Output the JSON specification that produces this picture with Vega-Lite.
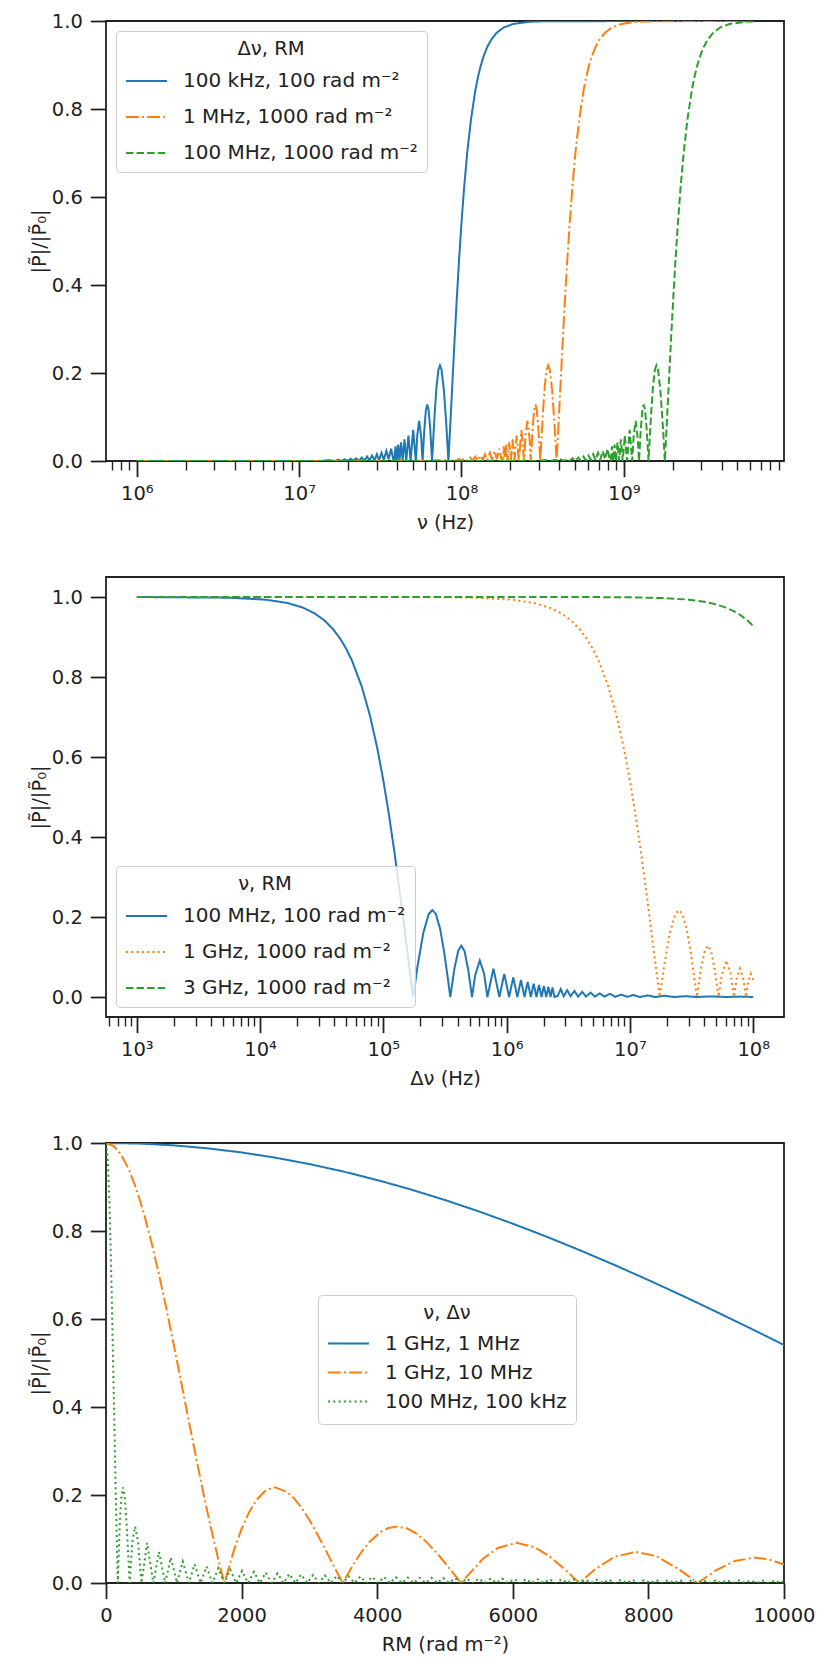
{
  "$schema": "https://vega.github.io/schema/vega-lite/v6.json",
  "background": "white",
  "padding": {"left": 28, "top": 10, "right": 10, "bottom": 10},
  "spacing": 43,
  "config": {
    "font": "DejaVu Sans",
    "view": {"stroke": "#222222", "strokeWidth": 1.8},
    "axis": {
      "grid": false,
      "domain": false,
      "tickColor": "#222222",
      "labelColor": "#222222",
      "titleColor": "#222222",
      "labelFontSize": 19.5,
      "titleFontSize": 19.5,
      "titleFontWeight": "normal",
      "labelPadding": 8,
      "titlePadding": 8,
      "labelOverlap": false,
      "labelFlush": false,
      "labelBound": false
    },
    "axisX": {"titlePadding": 10},
    "axisY": {"titlePadding": 2},
    "legend": {
      "titleFontSize": 19.5,
      "labelFontSize": 20,
      "titleFontWeight": "normal",
      "titleColor": "#222222",
      "labelColor": "#222222",
      "titleAnchor": "middle",
      "titleAlign": "center",
      "symbolType": "stroke",
      "symbolSize": 1681,
      "symbolStrokeWidth": 2,
      "labelOffset": 15,
      "labelLimit": 400,
      "padding": 9,
      "offset": 10,
      "fillColor": "rgba(255,255,255,0.8)",
      "strokeColor": "#cccccc",
      "cornerRadius": 4
    }
  },
  "datasets": {
    "p1": [
      {"s": "100 kHz, 100 rad m⁻²", "x": 1e6, "y": 0},
      {"s": "100 kHz, 100 rad m⁻²", "x": 1.370e7, "y": 0},
      {"s": "100 kHz, 100 rad m⁻²", "x": 1.533e7, "y": 0.002},
      {"s": "100 kHz, 100 rad m⁻²", "x": 1.651e7, "y": 0},
      {"s": "100 kHz, 100 rad m⁻²", "x": 1.743e7, "y": 0.0029},
      {"s": "100 kHz, 100 rad m⁻²", "x": 1.817e7, "y": 0},
      {"s": "100 kHz, 100 rad m⁻²", "x": 1.906e7, "y": 0.0038},
      {"s": "100 kHz, 100 rad m⁻²", "x": 1.985e7, "y": 0},
      {"s": "100 kHz, 100 rad m⁻²", "x": 2.080e7, "y": 0.005},
      {"s": "100 kHz, 100 rad m⁻²", "x": 2.154e7, "y": 0},
      {"s": "100 kHz, 100 rad m⁻²", "x": 2.241e7, "y": 0.0063},
      {"s": "100 kHz, 100 rad m⁻²", "x": 2.343e7, "y": 0.0005},
      {"s": "100 kHz, 100 rad m⁻²", "x": 2.433e7, "y": 0.008},
      {"s": "100 kHz, 100 rad m⁻²", "x": 2.524e7, "y": 0.001},
      {"s": "100 kHz, 100 rad m⁻²", "x": 2.621e7, "y": 0.010},
      {"s": "100 kHz, 100 rad m⁻²", "x": 2.714e7, "y": 0.001},
      {"s": "100 kHz, 100 rad m⁻²", "x": 2.811e7, "y": 0.0123},
      {"s": "100 kHz, 100 rad m⁻²", "x": 2.911e7, "y": 0.002},
      {"s": "100 kHz, 100 rad m⁻²", "x": 3.010e7, "y": 0.0152},
      {"s": "100 kHz, 100 rad m⁻²", "x": 3.107e7, "y": 0.002},
      {"s": "100 kHz, 100 rad m⁻²", "x": 3.218e7, "y": 0.0185},
      {"s": "100 kHz, 100 rad m⁻²", "x": 3.324e7, "y": 0.003},
      {"s": "100 kHz, 100 rad m⁻²", "x": 3.446e7, "y": 0.0227},
      {"s": "100 kHz, 100 rad m⁻²", "x": 3.557e7, "y": 0.004},
      {"s": "100 kHz, 100 rad m⁻²", "x": 3.684e7, "y": 0.0278},
      {"s": "100 kHz, 100 rad m⁻²", "x": 3.792e7, "y": 0.005},
      {"s": "100 kHz, 100 rad m⁻²", "x": 3.856e7, "y": 0},
      {"s": "100 kHz, 100 rad m⁻²", "x": 3.923e7, "y": 0.0335},
      {"s": "100 kHz, 100 rad m⁻²", "x": 3.993e7, "y": 0},
      {"s": "100 kHz, 100 rad m⁻²", "x": 4.071e7, "y": 0.0375},
      {"s": "100 kHz, 100 rad m⁻²", "x": 4.151e7, "y": 0},
      {"s": "100 kHz, 100 rad m⁻²", "x": 4.244e7, "y": 0.0425},
      {"s": "100 kHz, 100 rad m⁻²", "x": 4.341e7, "y": 0},
      {"s": "100 kHz, 100 rad m⁻²", "x": 4.454e7, "y": 0.0490},
      {"s": "100 kHz, 100 rad m⁻²", "x": 4.570e7, "y": 0},
      {"s": "100 kHz, 100 rad m⁻²", "x": 4.710e7, "y": 0.0579},
      {"s": "100 kHz, 100 rad m⁻²", "x": 4.858e7, "y": 0},
      {"s": "100 kHz, 100 rad m⁻²", "x": 5.040e7, "y": 0.0709},
      {"s": "100 kHz, 100 rad m⁻²", "x": 5.232e7, "y": 0},
      {"s": "100 kHz, 100 rad m⁻²", "x": 5.343e7, "y": 0.0588},
      {"s": "100 kHz, 100 rad m⁻²", "x": 5.485e7, "y": 0.0913},
      {"s": "100 kHz, 100 rad m⁻²", "x": 5.646e7, "y": 0.0544},
      {"s": "100 kHz, 100 rad m⁻²", "x": 5.758e7, "y": 0},
      {"s": "100 kHz, 100 rad m⁻²", "x": 5.892e7, "y": 0.0665},
      {"s": "100 kHz, 100 rad m⁻²", "x": 6.032e7, "y": 0.1147},
      {"s": "100 kHz, 100 rad m⁻²", "x": 6.154e7, "y": 0.1284},
      {"s": "100 kHz, 100 rad m⁻²", "x": 6.270e7, "y": 0.1165},
      {"s": "100 kHz, 100 rad m⁻²", "x": 6.421e7, "y": 0.0727},
      {"s": "100 kHz, 100 rad m⁻²", "x": 6.592e7, "y": 0},
      {"s": "100 kHz, 100 rad m⁻²", "x": 6.694e7, "y": 0.0466},
      {"s": "100 kHz, 100 rad m⁻²", "x": 6.850e7, "y": 0.1127},
      {"s": "100 kHz, 100 rad m⁻²", "x": 7.021e7, "y": 0.1699},
      {"s": "100 kHz, 100 rad m⁻²", "x": 7.211e7, "y": 0.2075},
      {"s": "100 kHz, 100 rad m⁻²", "x": 7.373e7, "y": 0.2172},
      {"s": "100 kHz, 100 rad m⁻²", "x": 7.539e7, "y": 0.2075},
      {"s": "100 kHz, 100 rad m⁻²", "x": 7.795e7, "y": 0.1610},
      {"s": "100 kHz, 100 rad m⁻²", "x": 8.089e7, "y": 0.0752},
      {"s": "100 kHz, 100 rad m⁻²", "x": 8.307e7, "y": 0},
      {"s": "100 kHz, 100 rad m⁻²", "x": 8.435e7, "y": 0.0470},
      {"s": "100 kHz, 100 rad m⁻²", "x": 8.631e7, "y": 0.1196},
      {"s": "100 kHz, 100 rad m⁻²", "x": 8.847e7, "y": 0.1983},
      {"s": "100 kHz, 100 rad m⁻²", "x": 9.086e7, "y": 0.2814},
      {"s": "100 kHz, 100 rad m⁻²", "x": 9.353e7, "y": 0.3675},
      {"s": "100 kHz, 100 rad m⁻²", "x": 9.655e7, "y": 0.4546},
      {"s": "100 kHz, 100 rad m⁻²", "x": 1.000e8, "y": 0.5410},
      {"s": "100 kHz, 100 rad m⁻²", "x": 1.040e8, "y": 0.6247},
      {"s": "100 kHz, 100 rad m⁻²", "x": 1.087e8, "y": 0.7039},
      {"s": "100 kHz, 100 rad m⁻²", "x": 1.145e8, "y": 0.7767},
      {"s": "100 kHz, 100 rad m⁻²", "x": 1.216e8, "y": 0.8415},
      {"s": "100 kHz, 100 rad m⁻²", "x": 1.260e8, "y": 0.8704},
      {"s": "100 kHz, 100 rad m⁻²", "x": 1.310e8, "y": 0.8967},
      {"s": "100 kHz, 100 rad m⁻²", "x": 1.370e8, "y": 0.9203},
      {"s": "100 kHz, 100 rad m⁻²", "x": 1.442e8, "y": 0.9411},
      {"s": "100 kHz, 100 rad m⁻²", "x": 1.533e8, "y": 0.9589},
      {"s": "100 kHz, 100 rad m⁻²", "x": 1.651e8, "y": 0.9735},
      {"s": "100 kHz, 100 rad m⁻²", "x": 1.817e8, "y": 0.9851},
      {"s": "100 kHz, 100 rad m⁻²", "x": 2.080e8, "y": 0.9933},
      {"s": "100 kHz, 100 rad m⁻²", "x": 2.621e8, "y": 0.9983},
      {"s": "100 kHz, 100 rad m⁻²", "x": 3.302e8, "y": 0.9996},
      {"s": "100 kHz, 100 rad m⁻²", "x": 6.27e9, "y": 1},
      {"s": "1 MHz, 1000 rad m⁻²", "x": 1e6, "y": 0},
      {"s": "1 MHz, 1000 rad m⁻²", "x": 6.359e7, "y": 0},
      {"s": "1 MHz, 1000 rad m⁻²", "x": 7.116e7, "y": 0.002},
      {"s": "1 MHz, 1000 rad m⁻²", "x": 7.663e7, "y": 0},
      {"s": "1 MHz, 1000 rad m⁻²", "x": 8.090e7, "y": 0.0029},
      {"s": "1 MHz, 1000 rad m⁻²", "x": 8.434e7, "y": 0},
      {"s": "1 MHz, 1000 rad m⁻²", "x": 8.847e7, "y": 0.0038},
      {"s": "1 MHz, 1000 rad m⁻²", "x": 9.214e7, "y": 0},
      {"s": "1 MHz, 1000 rad m⁻²", "x": 9.655e7, "y": 0.005},
      {"s": "1 MHz, 1000 rad m⁻²", "x": 9.998e7, "y": 0},
      {"s": "1 MHz, 1000 rad m⁻²", "x": 1.040e8, "y": 0.0063},
      {"s": "1 MHz, 1000 rad m⁻²", "x": 1.088e8, "y": 0.0005},
      {"s": "1 MHz, 1000 rad m⁻²", "x": 1.129e8, "y": 0.008},
      {"s": "1 MHz, 1000 rad m⁻²", "x": 1.172e8, "y": 0.001},
      {"s": "1 MHz, 1000 rad m⁻²", "x": 1.217e8, "y": 0.010},
      {"s": "1 MHz, 1000 rad m⁻²", "x": 1.260e8, "y": 0.001},
      {"s": "1 MHz, 1000 rad m⁻²", "x": 1.305e8, "y": 0.0123},
      {"s": "1 MHz, 1000 rad m⁻²", "x": 1.351e8, "y": 0.002},
      {"s": "1 MHz, 1000 rad m⁻²", "x": 1.397e8, "y": 0.0152},
      {"s": "1 MHz, 1000 rad m⁻²", "x": 1.442e8, "y": 0.002},
      {"s": "1 MHz, 1000 rad m⁻²", "x": 1.494e8, "y": 0.0185},
      {"s": "1 MHz, 1000 rad m⁻²", "x": 1.543e8, "y": 0.003},
      {"s": "1 MHz, 1000 rad m⁻²", "x": 1.600e8, "y": 0.0227},
      {"s": "1 MHz, 1000 rad m⁻²", "x": 1.651e8, "y": 0.004},
      {"s": "1 MHz, 1000 rad m⁻²", "x": 1.710e8, "y": 0.0278},
      {"s": "1 MHz, 1000 rad m⁻²", "x": 1.760e8, "y": 0.005},
      {"s": "1 MHz, 1000 rad m⁻²", "x": 1.790e8, "y": 0},
      {"s": "1 MHz, 1000 rad m⁻²", "x": 1.821e8, "y": 0.0335},
      {"s": "1 MHz, 1000 rad m⁻²", "x": 1.853e8, "y": 0},
      {"s": "1 MHz, 1000 rad m⁻²", "x": 1.890e8, "y": 0.0375},
      {"s": "1 MHz, 1000 rad m⁻²", "x": 1.927e8, "y": 0},
      {"s": "1 MHz, 1000 rad m⁻²", "x": 1.970e8, "y": 0.0425},
      {"s": "1 MHz, 1000 rad m⁻²", "x": 2.015e8, "y": 0},
      {"s": "1 MHz, 1000 rad m⁻²", "x": 2.067e8, "y": 0.0490},
      {"s": "1 MHz, 1000 rad m⁻²", "x": 2.121e8, "y": 0},
      {"s": "1 MHz, 1000 rad m⁻²", "x": 2.186e8, "y": 0.0579},
      {"s": "1 MHz, 1000 rad m⁻²", "x": 2.255e8, "y": 0},
      {"s": "1 MHz, 1000 rad m⁻²", "x": 2.339e8, "y": 0.0709},
      {"s": "1 MHz, 1000 rad m⁻²", "x": 2.429e8, "y": 0},
      {"s": "1 MHz, 1000 rad m⁻²", "x": 2.480e8, "y": 0.0588},
      {"s": "1 MHz, 1000 rad m⁻²", "x": 2.546e8, "y": 0.0913},
      {"s": "1 MHz, 1000 rad m⁻²", "x": 2.621e8, "y": 0.0544},
      {"s": "1 MHz, 1000 rad m⁻²", "x": 2.673e8, "y": 0},
      {"s": "1 MHz, 1000 rad m⁻²", "x": 2.735e8, "y": 0.0665},
      {"s": "1 MHz, 1000 rad m⁻²", "x": 2.800e8, "y": 0.1147},
      {"s": "1 MHz, 1000 rad m⁻²", "x": 2.856e8, "y": 0.1284},
      {"s": "1 MHz, 1000 rad m⁻²", "x": 2.910e8, "y": 0.1165},
      {"s": "1 MHz, 1000 rad m⁻²", "x": 2.980e8, "y": 0.0727},
      {"s": "1 MHz, 1000 rad m⁻²", "x": 3.060e8, "y": 0},
      {"s": "1 MHz, 1000 rad m⁻²", "x": 3.107e8, "y": 0.0466},
      {"s": "1 MHz, 1000 rad m⁻²", "x": 3.180e8, "y": 0.1127},
      {"s": "1 MHz, 1000 rad m⁻²", "x": 3.259e8, "y": 0.1699},
      {"s": "1 MHz, 1000 rad m⁻²", "x": 3.347e8, "y": 0.2075},
      {"s": "1 MHz, 1000 rad m⁻²", "x": 3.422e8, "y": 0.2172},
      {"s": "1 MHz, 1000 rad m⁻²", "x": 3.499e8, "y": 0.2075},
      {"s": "1 MHz, 1000 rad m⁻²", "x": 3.618e8, "y": 0.1610},
      {"s": "1 MHz, 1000 rad m⁻²", "x": 3.755e8, "y": 0.0752},
      {"s": "1 MHz, 1000 rad m⁻²", "x": 3.856e8, "y": 0},
      {"s": "1 MHz, 1000 rad m⁻²", "x": 3.915e8, "y": 0.0470},
      {"s": "1 MHz, 1000 rad m⁻²", "x": 4.006e8, "y": 0.1196},
      {"s": "1 MHz, 1000 rad m⁻²", "x": 4.106e8, "y": 0.1983},
      {"s": "1 MHz, 1000 rad m⁻²", "x": 4.217e8, "y": 0.2814},
      {"s": "1 MHz, 1000 rad m⁻²", "x": 4.341e8, "y": 0.3675},
      {"s": "1 MHz, 1000 rad m⁻²", "x": 4.482e8, "y": 0.4546},
      {"s": "1 MHz, 1000 rad m⁻²", "x": 4.642e8, "y": 0.5410},
      {"s": "1 MHz, 1000 rad m⁻²", "x": 4.827e8, "y": 0.6247},
      {"s": "1 MHz, 1000 rad m⁻²", "x": 5.045e8, "y": 0.7039},
      {"s": "1 MHz, 1000 rad m⁻²", "x": 5.315e8, "y": 0.7767},
      {"s": "1 MHz, 1000 rad m⁻²", "x": 5.646e8, "y": 0.8415},
      {"s": "1 MHz, 1000 rad m⁻²", "x": 5.848e8, "y": 0.8704},
      {"s": "1 MHz, 1000 rad m⁻²", "x": 6.081e8, "y": 0.8967},
      {"s": "1 MHz, 1000 rad m⁻²", "x": 6.359e8, "y": 0.9203},
      {"s": "1 MHz, 1000 rad m⁻²", "x": 6.693e8, "y": 0.9411},
      {"s": "1 MHz, 1000 rad m⁻²", "x": 7.116e8, "y": 0.9589},
      {"s": "1 MHz, 1000 rad m⁻²", "x": 7.663e8, "y": 0.9735},
      {"s": "1 MHz, 1000 rad m⁻²", "x": 8.434e8, "y": 0.9851},
      {"s": "1 MHz, 1000 rad m⁻²", "x": 9.655e8, "y": 0.9933},
      {"s": "1 MHz, 1000 rad m⁻²", "x": 1.217e9, "y": 0.9983},
      {"s": "1 MHz, 1000 rad m⁻²", "x": 1.533e9, "y": 0.9996},
      {"s": "1 MHz, 1000 rad m⁻²", "x": 6.27e9, "y": 1},
      {"s": "100 MHz, 1000 rad m⁻²", "x": 1e6, "y": 0},
      {"s": "100 MHz, 1000 rad m⁻²", "x": 2.952e8, "y": 0},
      {"s": "100 MHz, 1000 rad m⁻²", "x": 3.303e8, "y": 0.002},
      {"s": "100 MHz, 1000 rad m⁻²", "x": 3.557e8, "y": 0},
      {"s": "100 MHz, 1000 rad m⁻²", "x": 3.755e8, "y": 0.0029},
      {"s": "100 MHz, 1000 rad m⁻²", "x": 3.915e8, "y": 0},
      {"s": "100 MHz, 1000 rad m⁻²", "x": 4.106e8, "y": 0.0038},
      {"s": "100 MHz, 1000 rad m⁻²", "x": 4.276e8, "y": 0},
      {"s": "100 MHz, 1000 rad m⁻²", "x": 4.481e8, "y": 0.005},
      {"s": "100 MHz, 1000 rad m⁻²", "x": 4.641e8, "y": 0},
      {"s": "100 MHz, 1000 rad m⁻²", "x": 4.828e8, "y": 0.0063},
      {"s": "100 MHz, 1000 rad m⁻²", "x": 5.048e8, "y": 0.0005},
      {"s": "100 MHz, 1000 rad m⁻²", "x": 5.242e8, "y": 0.008},
      {"s": "100 MHz, 1000 rad m⁻²", "x": 5.438e8, "y": 0.001},
      {"s": "100 MHz, 1000 rad m⁻²", "x": 5.647e8, "y": 0.010},
      {"s": "100 MHz, 1000 rad m⁻²", "x": 5.847e8, "y": 0.001},
      {"s": "100 MHz, 1000 rad m⁻²", "x": 6.056e8, "y": 0.0123},
      {"s": "100 MHz, 1000 rad m⁻²", "x": 6.271e8, "y": 0.002},
      {"s": "100 MHz, 1000 rad m⁻²", "x": 6.485e8, "y": 0.0152},
      {"s": "100 MHz, 1000 rad m⁻²", "x": 6.694e8, "y": 0.002},
      {"s": "100 MHz, 1000 rad m⁻²", "x": 6.933e8, "y": 0.0185},
      {"s": "100 MHz, 1000 rad m⁻²", "x": 7.161e8, "y": 0.003},
      {"s": "100 MHz, 1000 rad m⁻²", "x": 7.424e8, "y": 0.0227},
      {"s": "100 MHz, 1000 rad m⁻²", "x": 7.663e8, "y": 0.004},
      {"s": "100 MHz, 1000 rad m⁻²", "x": 7.937e8, "y": 0.0278},
      {"s": "100 MHz, 1000 rad m⁻²", "x": 8.170e8, "y": 0.005},
      {"s": "100 MHz, 1000 rad m⁻²", "x": 8.307e8, "y": 0},
      {"s": "100 MHz, 1000 rad m⁻²", "x": 8.452e8, "y": 0.0335},
      {"s": "100 MHz, 1000 rad m⁻²", "x": 8.603e8, "y": 0},
      {"s": "100 MHz, 1000 rad m⁻²", "x": 8.771e8, "y": 0.0375},
      {"s": "100 MHz, 1000 rad m⁻²", "x": 8.943e8, "y": 0},
      {"s": "100 MHz, 1000 rad m⁻²", "x": 9.143e8, "y": 0.0425},
      {"s": "100 MHz, 1000 rad m⁻²", "x": 9.352e8, "y": 0},
      {"s": "100 MHz, 1000 rad m⁻²", "x": 9.596e8, "y": 0.0490},
      {"s": "100 MHz, 1000 rad m⁻²", "x": 9.846e8, "y": 0},
      {"s": "100 MHz, 1000 rad m⁻²", "x": 1.015e9, "y": 0.0579},
      {"s": "100 MHz, 1000 rad m⁻²", "x": 1.047e9, "y": 0},
      {"s": "100 MHz, 1000 rad m⁻²", "x": 1.086e9, "y": 0.0709},
      {"s": "100 MHz, 1000 rad m⁻²", "x": 1.127e9, "y": 0},
      {"s": "100 MHz, 1000 rad m⁻²", "x": 1.151e9, "y": 0.0588},
      {"s": "100 MHz, 1000 rad m⁻²", "x": 1.182e9, "y": 0.0913},
      {"s": "100 MHz, 1000 rad m⁻²", "x": 1.216e9, "y": 0.0544},
      {"s": "100 MHz, 1000 rad m⁻²", "x": 1.241e9, "y": 0},
      {"s": "100 MHz, 1000 rad m⁻²", "x": 1.269e9, "y": 0.0665},
      {"s": "100 MHz, 1000 rad m⁻²", "x": 1.300e9, "y": 0.1147},
      {"s": "100 MHz, 1000 rad m⁻²", "x": 1.326e9, "y": 0.1284},
      {"s": "100 MHz, 1000 rad m⁻²", "x": 1.351e9, "y": 0.1165},
      {"s": "100 MHz, 1000 rad m⁻²", "x": 1.383e9, "y": 0.0727},
      {"s": "100 MHz, 1000 rad m⁻²", "x": 1.420e9, "y": 0},
      {"s": "100 MHz, 1000 rad m⁻²", "x": 1.442e9, "y": 0.0466},
      {"s": "100 MHz, 1000 rad m⁻²", "x": 1.476e9, "y": 0.1127},
      {"s": "100 MHz, 1000 rad m⁻²", "x": 1.513e9, "y": 0.1699},
      {"s": "100 MHz, 1000 rad m⁻²", "x": 1.554e9, "y": 0.2075},
      {"s": "100 MHz, 1000 rad m⁻²", "x": 1.588e9, "y": 0.2172},
      {"s": "100 MHz, 1000 rad m⁻²", "x": 1.624e9, "y": 0.2075},
      {"s": "100 MHz, 1000 rad m⁻²", "x": 1.679e9, "y": 0.1610},
      {"s": "100 MHz, 1000 rad m⁻²", "x": 1.743e9, "y": 0.0752},
      {"s": "100 MHz, 1000 rad m⁻²", "x": 1.790e9, "y": 0},
      {"s": "100 MHz, 1000 rad m⁻²", "x": 1.817e9, "y": 0.0470},
      {"s": "100 MHz, 1000 rad m⁻²", "x": 1.859e9, "y": 0.1196},
      {"s": "100 MHz, 1000 rad m⁻²", "x": 1.906e9, "y": 0.1983},
      {"s": "100 MHz, 1000 rad m⁻²", "x": 1.957e9, "y": 0.2814},
      {"s": "100 MHz, 1000 rad m⁻²", "x": 2.015e9, "y": 0.3675},
      {"s": "100 MHz, 1000 rad m⁻²", "x": 2.080e9, "y": 0.4546},
      {"s": "100 MHz, 1000 rad m⁻²", "x": 2.154e9, "y": 0.5410},
      {"s": "100 MHz, 1000 rad m⁻²", "x": 2.241e9, "y": 0.6247},
      {"s": "100 MHz, 1000 rad m⁻²", "x": 2.342e9, "y": 0.7039},
      {"s": "100 MHz, 1000 rad m⁻²", "x": 2.467e9, "y": 0.7767},
      {"s": "100 MHz, 1000 rad m⁻²", "x": 2.621e9, "y": 0.8415},
      {"s": "100 MHz, 1000 rad m⁻²", "x": 2.715e9, "y": 0.8704},
      {"s": "100 MHz, 1000 rad m⁻²", "x": 2.822e9, "y": 0.8967},
      {"s": "100 MHz, 1000 rad m⁻²", "x": 2.952e9, "y": 0.9203},
      {"s": "100 MHz, 1000 rad m⁻²", "x": 3.107e9, "y": 0.9411},
      {"s": "100 MHz, 1000 rad m⁻²", "x": 3.303e9, "y": 0.9589},
      {"s": "100 MHz, 1000 rad m⁻²", "x": 3.557e9, "y": 0.9735},
      {"s": "100 MHz, 1000 rad m⁻²", "x": 3.915e9, "y": 0.9851},
      {"s": "100 MHz, 1000 rad m⁻²", "x": 4.481e9, "y": 0.9933},
      {"s": "100 MHz, 1000 rad m⁻²", "x": 5.647e9, "y": 0.9983},
      {"s": "100 MHz, 1000 rad m⁻²", "x": 6.27e9, "y": 0.9991}
    ],
    "p2": [
      {"s": "100 MHz, 100 rad m⁻²", "x": 1000, "y": 1.0},
      {"s": "100 MHz, 100 rad m⁻²", "x": 5556, "y": 0.9983},
      {"s": "100 MHz, 100 rad m⁻²", "x": 11111, "y": 0.9933},
      {"s": "100 MHz, 100 rad m⁻²", "x": 16667, "y": 0.9851},
      {"s": "100 MHz, 100 rad m⁻²", "x": 22222, "y": 0.9735},
      {"s": "100 MHz, 100 rad m⁻²", "x": 27778, "y": 0.9589},
      {"s": "100 MHz, 100 rad m⁻²", "x": 33333, "y": 0.9411},
      {"s": "100 MHz, 100 rad m⁻²", "x": 38889, "y": 0.9203},
      {"s": "100 MHz, 100 rad m⁻²", "x": 44444, "y": 0.8967},
      {"s": "100 MHz, 100 rad m⁻²", "x": 50000, "y": 0.8704},
      {"s": "100 MHz, 100 rad m⁻²", "x": 55556, "y": 0.8415},
      {"s": "100 MHz, 100 rad m⁻²", "x": 66667, "y": 0.7767},
      {"s": "100 MHz, 100 rad m⁻²", "x": 77778, "y": 0.7039},
      {"s": "100 MHz, 100 rad m⁻²", "x": 88889, "y": 0.6247},
      {"s": "100 MHz, 100 rad m⁻²", "x": 100000, "y": 0.5410},
      {"s": "100 MHz, 100 rad m⁻²", "x": 111111, "y": 0.4546},
      {"s": "100 MHz, 100 rad m⁻²", "x": 122222, "y": 0.3675},
      {"s": "100 MHz, 100 rad m⁻²", "x": 133333, "y": 0.2814},
      {"s": "100 MHz, 100 rad m⁻²", "x": 144444, "y": 0.1983},
      {"s": "100 MHz, 100 rad m⁻²", "x": 155556, "y": 0.1196},
      {"s": "100 MHz, 100 rad m⁻²", "x": 166667, "y": 0.0470},
      {"s": "100 MHz, 100 rad m⁻²", "x": 174533, "y": 0},
      {"s": "100 MHz, 100 rad m⁻²", "x": 188889, "y": 0.0752},
      {"s": "100 MHz, 100 rad m⁻²", "x": 211111, "y": 0.1610},
      {"s": "100 MHz, 100 rad m⁻²", "x": 233333, "y": 0.2075},
      {"s": "100 MHz, 100 rad m⁻²", "x": 249611, "y": 0.2172},
      {"s": "100 MHz, 100 rad m⁻²", "x": 266667, "y": 0.2075},
      {"s": "100 MHz, 100 rad m⁻²", "x": 288889, "y": 0.1699},
      {"s": "100 MHz, 100 rad m⁻²", "x": 311111, "y": 0.1127},
      {"s": "100 MHz, 100 rad m⁻²", "x": 333333, "y": 0.0466},
      {"s": "100 MHz, 100 rad m⁻²", "x": 349066, "y": 0},
      {"s": "100 MHz, 100 rad m⁻²", "x": 377778, "y": 0.0727},
      {"s": "100 MHz, 100 rad m⁻²", "x": 405556, "y": 0.1165},
      {"s": "100 MHz, 100 rad m⁻²", "x": 429167, "y": 0.1284},
      {"s": "100 MHz, 100 rad m⁻²", "x": 455556, "y": 0.1147},
      {"s": "100 MHz, 100 rad m⁻²", "x": 488889, "y": 0.0665},
      {"s": "100 MHz, 100 rad m⁻²", "x": 523599, "y": 0},
      {"s": "100 MHz, 100 rad m⁻²", "x": 555556, "y": 0.0544},
      {"s": "100 MHz, 100 rad m⁻²", "x": 605778, "y": 0.0913},
      {"s": "100 MHz, 100 rad m⁻²", "x": 655556, "y": 0.0588},
      {"s": "100 MHz, 100 rad m⁻²", "x": 698132, "y": 0},
      {"s": "100 MHz, 100 rad m⁻²", "x": 781444, "y": 0.0709},
      {"s": "100 MHz, 100 rad m⁻²", "x": 872665, "y": 0},
      {"s": "100 MHz, 100 rad m⁻²", "x": 956722, "y": 0.0579},
      {"s": "100 MHz, 100 rad m⁻²", "x": 1047198, "y": 0},
      {"s": "100 MHz, 100 rad m⁻²", "x": 1131722, "y": 0.0490},
      {"s": "100 MHz, 100 rad m⁻²", "x": 1221730, "y": 0},
      {"s": "100 MHz, 100 rad m⁻²", "x": 1306611, "y": 0.0425},
      {"s": "100 MHz, 100 rad m⁻²", "x": 1396263, "y": 0},
      {"s": "100 MHz, 100 rad m⁻²", "x": 1481444, "y": 0.0375},
      {"s": "100 MHz, 100 rad m⁻²", "x": 1570796, "y": 0},
      {"s": "100 MHz, 100 rad m⁻²", "x": 1656222, "y": 0.0335},
      {"s": "100 MHz, 100 rad m⁻²", "x": 1745329, "y": 0},
      {"s": "100 MHz, 100 rad m⁻²", "x": 1830889, "y": 0.0303},
      {"s": "100 MHz, 100 rad m⁻²", "x": 1919862, "y": 0},
      {"s": "100 MHz, 100 rad m⁻²", "x": 2005556, "y": 0.0277},
      {"s": "100 MHz, 100 rad m⁻²", "x": 2094395, "y": 0},
      {"s": "100 MHz, 100 rad m⁻²", "x": 2180000, "y": 0.0255},
      {"s": "100 MHz, 100 rad m⁻²", "x": 2268928, "y": 0},
      {"s": "100 MHz, 100 rad m⁻²", "x": 2355000, "y": 0.0236},
      {"s": "100 MHz, 100 rad m⁻²", "x": 2443461, "y": 0},
      {"s": "100 MHz, 100 rad m⁻²", "x": 2600000, "y": 0.003},
      {"s": "100 MHz, 100 rad m⁻²", "x": 2750000, "y": 0.020},
      {"s": "100 MHz, 100 rad m⁻²", "x": 2900000, "y": 0.002},
      {"s": "100 MHz, 100 rad m⁻²", "x": 3100000, "y": 0.017},
      {"s": "100 MHz, 100 rad m⁻²", "x": 3300000, "y": 0.002},
      {"s": "100 MHz, 100 rad m⁻²", "x": 3550000, "y": 0.015},
      {"s": "100 MHz, 100 rad m⁻²", "x": 3800000, "y": 0.001},
      {"s": "100 MHz, 100 rad m⁻²", "x": 4100000, "y": 0.013},
      {"s": "100 MHz, 100 rad m⁻²", "x": 4400000, "y": 0.001},
      {"s": "100 MHz, 100 rad m⁻²", "x": 4800000, "y": 0.011},
      {"s": "100 MHz, 100 rad m⁻²", "x": 5200000, "y": 0.001},
      {"s": "100 MHz, 100 rad m⁻²", "x": 5700000, "y": 0.009},
      {"s": "100 MHz, 100 rad m⁻²", "x": 6200000, "y": 0.001},
      {"s": "100 MHz, 100 rad m⁻²", "x": 6900000, "y": 0.008},
      {"s": "100 MHz, 100 rad m⁻²", "x": 7600000, "y": 0.0005},
      {"s": "100 MHz, 100 rad m⁻²", "x": 8500000, "y": 0.006},
      {"s": "100 MHz, 100 rad m⁻²", "x": 9500000, "y": 0.0005},
      {"s": "100 MHz, 100 rad m⁻²", "x": 10700000, "y": 0.005},
      {"s": "100 MHz, 100 rad m⁻²", "x": 12000000, "y": 0},
      {"s": "100 MHz, 100 rad m⁻²", "x": 14000000, "y": 0.004},
      {"s": "100 MHz, 100 rad m⁻²", "x": 16000000, "y": 0},
      {"s": "100 MHz, 100 rad m⁻²", "x": 19000000, "y": 0.003},
      {"s": "100 MHz, 100 rad m⁻²", "x": 23000000, "y": 0},
      {"s": "100 MHz, 100 rad m⁻²", "x": 28000000, "y": 0.002},
      {"s": "100 MHz, 100 rad m⁻²", "x": 35000000, "y": 0},
      {"s": "100 MHz, 100 rad m⁻²", "x": 45000000, "y": 0.0015},
      {"s": "100 MHz, 100 rad m⁻²", "x": 60000000, "y": 0},
      {"s": "100 MHz, 100 rad m⁻²", "x": 80000000, "y": 0.001},
      {"s": "100 MHz, 100 rad m⁻²", "x": 100000000, "y": 0},
      {"s": "1 GHz, 1000 rad m⁻²", "x": 1000, "y": 1.0},
      {"s": "1 GHz, 1000 rad m⁻²", "x": 55556, "y": 1.0},
      {"s": "1 GHz, 1000 rad m⁻²", "x": 277778, "y": 0.9996},
      {"s": "1 GHz, 1000 rad m⁻²", "x": 555556, "y": 0.9983},
      {"s": "1 GHz, 1000 rad m⁻²", "x": 1111111, "y": 0.9933},
      {"s": "1 GHz, 1000 rad m⁻²", "x": 1666667, "y": 0.9851},
      {"s": "1 GHz, 1000 rad m⁻²", "x": 2222222, "y": 0.9735},
      {"s": "1 GHz, 1000 rad m⁻²", "x": 2777778, "y": 0.9589},
      {"s": "1 GHz, 1000 rad m⁻²", "x": 3333333, "y": 0.9411},
      {"s": "1 GHz, 1000 rad m⁻²", "x": 3888889, "y": 0.9203},
      {"s": "1 GHz, 1000 rad m⁻²", "x": 4444444, "y": 0.8967},
      {"s": "1 GHz, 1000 rad m⁻²", "x": 5000000, "y": 0.8704},
      {"s": "1 GHz, 1000 rad m⁻²", "x": 5555556, "y": 0.8415},
      {"s": "1 GHz, 1000 rad m⁻²", "x": 6666667, "y": 0.7767},
      {"s": "1 GHz, 1000 rad m⁻²", "x": 7777778, "y": 0.7039},
      {"s": "1 GHz, 1000 rad m⁻²", "x": 8888889, "y": 0.6247},
      {"s": "1 GHz, 1000 rad m⁻²", "x": 10000000, "y": 0.5410},
      {"s": "1 GHz, 1000 rad m⁻²", "x": 11111111, "y": 0.4546},
      {"s": "1 GHz, 1000 rad m⁻²", "x": 12222222, "y": 0.3675},
      {"s": "1 GHz, 1000 rad m⁻²", "x": 13333333, "y": 0.2814},
      {"s": "1 GHz, 1000 rad m⁻²", "x": 14444444, "y": 0.1983},
      {"s": "1 GHz, 1000 rad m⁻²", "x": 15555556, "y": 0.1196},
      {"s": "1 GHz, 1000 rad m⁻²", "x": 16666667, "y": 0.0470},
      {"s": "1 GHz, 1000 rad m⁻²", "x": 17453293, "y": 0},
      {"s": "1 GHz, 1000 rad m⁻²", "x": 18888889, "y": 0.0752},
      {"s": "1 GHz, 1000 rad m⁻²", "x": 21111111, "y": 0.1610},
      {"s": "1 GHz, 1000 rad m⁻²", "x": 23333333, "y": 0.2075},
      {"s": "1 GHz, 1000 rad m⁻²", "x": 24961111, "y": 0.2172},
      {"s": "1 GHz, 1000 rad m⁻²", "x": 26666667, "y": 0.2075},
      {"s": "1 GHz, 1000 rad m⁻²", "x": 28888889, "y": 0.1699},
      {"s": "1 GHz, 1000 rad m⁻²", "x": 31111111, "y": 0.1127},
      {"s": "1 GHz, 1000 rad m⁻²", "x": 33333333, "y": 0.0466},
      {"s": "1 GHz, 1000 rad m⁻²", "x": 34906585, "y": 0},
      {"s": "1 GHz, 1000 rad m⁻²", "x": 37777778, "y": 0.0727},
      {"s": "1 GHz, 1000 rad m⁻²", "x": 40555556, "y": 0.1165},
      {"s": "1 GHz, 1000 rad m⁻²", "x": 42916667, "y": 0.1284},
      {"s": "1 GHz, 1000 rad m⁻²", "x": 45555556, "y": 0.1147},
      {"s": "1 GHz, 1000 rad m⁻²", "x": 48888889, "y": 0.0665},
      {"s": "1 GHz, 1000 rad m⁻²", "x": 52359878, "y": 0},
      {"s": "1 GHz, 1000 rad m⁻²", "x": 55555556, "y": 0.0544},
      {"s": "1 GHz, 1000 rad m⁻²", "x": 60577778, "y": 0.0913},
      {"s": "1 GHz, 1000 rad m⁻²", "x": 65555556, "y": 0.0588},
      {"s": "1 GHz, 1000 rad m⁻²", "x": 69813170, "y": 0},
      {"s": "1 GHz, 1000 rad m⁻²", "x": 73888889, "y": 0.0503},
      {"s": "1 GHz, 1000 rad m⁻²", "x": 78144444, "y": 0.0709},
      {"s": "1 GHz, 1000 rad m⁻²", "x": 82777778, "y": 0.0486},
      {"s": "1 GHz, 1000 rad m⁻²", "x": 87266463, "y": 0},
      {"s": "1 GHz, 1000 rad m⁻²", "x": 91111111, "y": 0.0389},
      {"s": "1 GHz, 1000 rad m⁻²", "x": 95672222, "y": 0.0579},
      {"s": "1 GHz, 1000 rad m⁻²", "x": 100000000, "y": 0.0417},
      {"s": "3 GHz, 1000 rad m⁻²", "x": 1000, "y": 1.0},
      {"s": "3 GHz, 1000 rad m⁻²", "x": 1000000, "y": 1.0},
      {"s": "3 GHz, 1000 rad m⁻²", "x": 3000000, "y": 0.9999},
      {"s": "3 GHz, 1000 rad m⁻²", "x": 5000000, "y": 0.9998},
      {"s": "3 GHz, 1000 rad m⁻²", "x": 10000000, "y": 0.9993},
      {"s": "3 GHz, 1000 rad m⁻²", "x": 20000000, "y": 0.9970},
      {"s": "3 GHz, 1000 rad m⁻²", "x": 30000000, "y": 0.9934},
      {"s": "3 GHz, 1000 rad m⁻²", "x": 40000000, "y": 0.9882},
      {"s": "3 GHz, 1000 rad m⁻²", "x": 50000000, "y": 0.9816},
      {"s": "3 GHz, 1000 rad m⁻²", "x": 60000000, "y": 0.9735},
      {"s": "3 GHz, 1000 rad m⁻²", "x": 70000000, "y": 0.9641},
      {"s": "3 GHz, 1000 rad m⁻²", "x": 80000000, "y": 0.9533},
      {"s": "3 GHz, 1000 rad m⁻²", "x": 90000000, "y": 0.9411},
      {"s": "3 GHz, 1000 rad m⁻²", "x": 100000000, "y": 0.9276}
    ],
    "p3": [
      {"s": "1 GHz, 1 MHz", "x": 0, "y": 1.0},
      {"s": "1 GHz, 1 MHz", "x": 500, "y": 0.9987},
      {"s": "1 GHz, 1 MHz", "x": 1000, "y": 0.9946},
      {"s": "1 GHz, 1 MHz", "x": 1500, "y": 0.9879},
      {"s": "1 GHz, 1 MHz", "x": 2000, "y": 0.9785},
      {"s": "1 GHz, 1 MHz", "x": 2500, "y": 0.9666},
      {"s": "1 GHz, 1 MHz", "x": 3000, "y": 0.9521},
      {"s": "1 GHz, 1 MHz", "x": 3500, "y": 0.9352},
      {"s": "1 GHz, 1 MHz", "x": 4000, "y": 0.9158},
      {"s": "1 GHz, 1 MHz", "x": 4500, "y": 0.8942},
      {"s": "1 GHz, 1 MHz", "x": 5000, "y": 0.8704},
      {"s": "1 GHz, 1 MHz", "x": 5500, "y": 0.8445},
      {"s": "1 GHz, 1 MHz", "x": 6000, "y": 0.8166},
      {"s": "1 GHz, 1 MHz", "x": 6500, "y": 0.7870},
      {"s": "1 GHz, 1 MHz", "x": 7000, "y": 0.7556},
      {"s": "1 GHz, 1 MHz", "x": 7500, "y": 0.7228},
      {"s": "1 GHz, 1 MHz", "x": 8000, "y": 0.6885},
      {"s": "1 GHz, 1 MHz", "x": 8500, "y": 0.6531},
      {"s": "1 GHz, 1 MHz", "x": 9000, "y": 0.6165},
      {"s": "1 GHz, 1 MHz", "x": 9500, "y": 0.5791},
      {"s": "1 GHz, 1 MHz", "x": 10000, "y": 0.5410},
      {"s": "1 GHz, 10 MHz", "x": 0, "y": 1.0},
      {"s": "1 GHz, 10 MHz", "x": 111.1, "y": 0.9933},
      {"s": "1 GHz, 10 MHz", "x": 222.2, "y": 0.9735},
      {"s": "1 GHz, 10 MHz", "x": 333.3, "y": 0.9411},
      {"s": "1 GHz, 10 MHz", "x": 444.4, "y": 0.8967},
      {"s": "1 GHz, 10 MHz", "x": 555.6, "y": 0.8415},
      {"s": "1 GHz, 10 MHz", "x": 666.7, "y": 0.7767},
      {"s": "1 GHz, 10 MHz", "x": 777.8, "y": 0.7039},
      {"s": "1 GHz, 10 MHz", "x": 888.9, "y": 0.6247},
      {"s": "1 GHz, 10 MHz", "x": 1000, "y": 0.5410},
      {"s": "1 GHz, 10 MHz", "x": 1111.1, "y": 0.4546},
      {"s": "1 GHz, 10 MHz", "x": 1222.2, "y": 0.3675},
      {"s": "1 GHz, 10 MHz", "x": 1333.3, "y": 0.2814},
      {"s": "1 GHz, 10 MHz", "x": 1444.4, "y": 0.1983},
      {"s": "1 GHz, 10 MHz", "x": 1555.6, "y": 0.1196},
      {"s": "1 GHz, 10 MHz", "x": 1666.7, "y": 0.0470},
      {"s": "1 GHz, 10 MHz", "x": 1745.3, "y": 0},
      {"s": "1 GHz, 10 MHz", "x": 1888.9, "y": 0.0752},
      {"s": "1 GHz, 10 MHz", "x": 2000.0, "y": 0.1229},
      {"s": "1 GHz, 10 MHz", "x": 2111.1, "y": 0.1610},
      {"s": "1 GHz, 10 MHz", "x": 2222.2, "y": 0.1892},
      {"s": "1 GHz, 10 MHz", "x": 2333.3, "y": 0.2075},
      {"s": "1 GHz, 10 MHz", "x": 2444.4, "y": 0.2163},
      {"s": "1 GHz, 10 MHz", "x": 2496.1, "y": 0.2172},
      {"s": "1 GHz, 10 MHz", "x": 2666.7, "y": 0.2075},
      {"s": "1 GHz, 10 MHz", "x": 2777.8, "y": 0.1918},
      {"s": "1 GHz, 10 MHz", "x": 2888.9, "y": 0.1699},
      {"s": "1 GHz, 10 MHz", "x": 3000.0, "y": 0.1431},
      {"s": "1 GHz, 10 MHz", "x": 3111.1, "y": 0.1127},
      {"s": "1 GHz, 10 MHz", "x": 3222.2, "y": 0.0801},
      {"s": "1 GHz, 10 MHz", "x": 3333.3, "y": 0.0466},
      {"s": "1 GHz, 10 MHz", "x": 3490.7, "y": 0},
      {"s": "1 GHz, 10 MHz", "x": 3666.7, "y": 0.0472},
      {"s": "1 GHz, 10 MHz", "x": 3777.8, "y": 0.0727},
      {"s": "1 GHz, 10 MHz", "x": 3888.9, "y": 0.0939},
      {"s": "1 GHz, 10 MHz", "x": 4055.6, "y": 0.1165},
      {"s": "1 GHz, 10 MHz", "x": 4166.7, "y": 0.1251},
      {"s": "1 GHz, 10 MHz", "x": 4291.7, "y": 0.1284},
      {"s": "1 GHz, 10 MHz", "x": 4444.4, "y": 0.1237},
      {"s": "1 GHz, 10 MHz", "x": 4555.6, "y": 0.1147},
      {"s": "1 GHz, 10 MHz", "x": 4722.2, "y": 0.0939},
      {"s": "1 GHz, 10 MHz", "x": 4888.9, "y": 0.0665},
      {"s": "1 GHz, 10 MHz", "x": 5055.6, "y": 0.0351},
      {"s": "1 GHz, 10 MHz", "x": 5236.0, "y": 0},
      {"s": "1 GHz, 10 MHz", "x": 5555.6, "y": 0.0544},
      {"s": "1 GHz, 10 MHz", "x": 5777.8, "y": 0.0796},
      {"s": "1 GHz, 10 MHz", "x": 6057.8, "y": 0.0913},
      {"s": "1 GHz, 10 MHz", "x": 6333.3, "y": 0.0807},
      {"s": "1 GHz, 10 MHz", "x": 6555.6, "y": 0.0588},
      {"s": "1 GHz, 10 MHz", "x": 6777.8, "y": 0.0295},
      {"s": "1 GHz, 10 MHz", "x": 6981.3, "y": 0},
      {"s": "1 GHz, 10 MHz", "x": 7222.2, "y": 0.0323},
      {"s": "1 GHz, 10 MHz", "x": 7500.0, "y": 0.0595},
      {"s": "1 GHz, 10 MHz", "x": 7814.4, "y": 0.0709},
      {"s": "1 GHz, 10 MHz", "x": 8111.1, "y": 0.0613},
      {"s": "1 GHz, 10 MHz", "x": 8444.4, "y": 0.0320},
      {"s": "1 GHz, 10 MHz", "x": 8726.6, "y": 0},
      {"s": "1 GHz, 10 MHz", "x": 9000.0, "y": 0.0292},
      {"s": "1 GHz, 10 MHz", "x": 9277.8, "y": 0.0501},
      {"s": "1 GHz, 10 MHz", "x": 9567.2, "y": 0.0579},
      {"s": "1 GHz, 10 MHz", "x": 9777.8, "y": 0.0539},
      {"s": "1 GHz, 10 MHz", "x": 10000, "y": 0.0417},
      {"s": "100 MHz, 100 kHz", "x": 0, "y": 1.0},
      {"s": "100 MHz, 100 kHz", "x": 27.8, "y": 0.9589},
      {"s": "100 MHz, 100 kHz", "x": 55.6, "y": 0.8415},
      {"s": "100 MHz, 100 kHz", "x": 83.3, "y": 0.6650},
      {"s": "100 MHz, 100 kHz", "x": 111.1, "y": 0.4546},
      {"s": "100 MHz, 100 kHz", "x": 138.9, "y": 0.2394},
      {"s": "100 MHz, 100 kHz", "x": 166.7, "y": 0.0470},
      {"s": "100 MHz, 100 kHz", "x": 174.5, "y": 0},
      {"s": "100 MHz, 100 kHz", "x": 200.0, "y": 0.1229},
      {"s": "100 MHz, 100 kHz", "x": 222.2, "y": 0.1892},
      {"s": "100 MHz, 100 kHz", "x": 249.6, "y": 0.2172},
      {"s": "100 MHz, 100 kHz", "x": 277.8, "y": 0.1918},
      {"s": "100 MHz, 100 kHz", "x": 300.0, "y": 0.1431},
      {"s": "100 MHz, 100 kHz", "x": 322.2, "y": 0.0801},
      {"s": "100 MHz, 100 kHz", "x": 349.1, "y": 0},
      {"s": "100 MHz, 100 kHz", "x": 388.9, "y": 0.0939},
      {"s": "100 MHz, 100 kHz", "x": 429.2, "y": 0.1284},
      {"s": "100 MHz, 100 kHz", "x": 472.2, "y": 0.0939},
      {"s": "100 MHz, 100 kHz", "x": 523.6, "y": 0},
      {"s": "100 MHz, 100 kHz", "x": 605.8, "y": 0.0913},
      {"s": "100 MHz, 100 kHz", "x": 698.1, "y": 0},
      {"s": "100 MHz, 100 kHz", "x": 781.4, "y": 0.0709},
      {"s": "100 MHz, 100 kHz", "x": 872.7, "y": 0},
      {"s": "100 MHz, 100 kHz", "x": 956.7, "y": 0.0579},
      {"s": "100 MHz, 100 kHz", "x": 1047.2, "y": 0},
      {"s": "100 MHz, 100 kHz", "x": 1131.7, "y": 0.0490},
      {"s": "100 MHz, 100 kHz", "x": 1221.7, "y": 0},
      {"s": "100 MHz, 100 kHz", "x": 1306.6, "y": 0.0425},
      {"s": "100 MHz, 100 kHz", "x": 1396.3, "y": 0},
      {"s": "100 MHz, 100 kHz", "x": 1481.4, "y": 0.0375},
      {"s": "100 MHz, 100 kHz", "x": 1570.8, "y": 0},
      {"s": "100 MHz, 100 kHz", "x": 1656.2, "y": 0.0335},
      {"s": "100 MHz, 100 kHz", "x": 1745.3, "y": 0},
      {"s": "100 MHz, 100 kHz", "x": 1830.9, "y": 0.0303},
      {"s": "100 MHz, 100 kHz", "x": 1919.9, "y": 0},
      {"s": "100 MHz, 100 kHz", "x": 2007, "y": 0.0277},
      {"s": "100 MHz, 100 kHz", "x": 2094, "y": 0},
      {"s": "100 MHz, 100 kHz", "x": 2182, "y": 0.0255},
      {"s": "100 MHz, 100 kHz", "x": 2269, "y": 0},
      {"s": "100 MHz, 100 kHz", "x": 2356, "y": 0.0236},
      {"s": "100 MHz, 100 kHz", "x": 2443, "y": 0},
      {"s": "100 MHz, 100 kHz", "x": 2531, "y": 0.0220},
      {"s": "100 MHz, 100 kHz", "x": 2618, "y": 0},
      {"s": "100 MHz, 100 kHz", "x": 2705, "y": 0.0205},
      {"s": "100 MHz, 100 kHz", "x": 2792, "y": 0},
      {"s": "100 MHz, 100 kHz", "x": 2880, "y": 0.0193},
      {"s": "100 MHz, 100 kHz", "x": 2967, "y": 0},
      {"s": "100 MHz, 100 kHz", "x": 3054, "y": 0.0182},
      {"s": "100 MHz, 100 kHz", "x": 3142, "y": 0},
      {"s": "100 MHz, 100 kHz", "x": 3229, "y": 0.0172},
      {"s": "100 MHz, 100 kHz", "x": 3316, "y": 0},
      {"s": "100 MHz, 100 kHz", "x": 3403, "y": 0.0163},
      {"s": "100 MHz, 100 kHz", "x": 3491, "y": 0},
      {"s": "100 MHz, 100 kHz", "x": 3578, "y": 0.0155},
      {"s": "100 MHz, 100 kHz", "x": 3665, "y": 0},
      {"s": "100 MHz, 100 kHz", "x": 3752, "y": 0.0148},
      {"s": "100 MHz, 100 kHz", "x": 3840, "y": 0},
      {"s": "100 MHz, 100 kHz", "x": 3927, "y": 0.0141},
      {"s": "100 MHz, 100 kHz", "x": 4014, "y": 0},
      {"s": "100 MHz, 100 kHz", "x": 4101, "y": 0.0135},
      {"s": "100 MHz, 100 kHz", "x": 4189, "y": 0},
      {"s": "100 MHz, 100 kHz", "x": 4276, "y": 0.0130},
      {"s": "100 MHz, 100 kHz", "x": 4363, "y": 0},
      {"s": "100 MHz, 100 kHz", "x": 4451, "y": 0.0125},
      {"s": "100 MHz, 100 kHz", "x": 4538, "y": 0},
      {"s": "100 MHz, 100 kHz", "x": 4625, "y": 0.0120},
      {"s": "100 MHz, 100 kHz", "x": 4712, "y": 0},
      {"s": "100 MHz, 100 kHz", "x": 4800, "y": 0.0116},
      {"s": "100 MHz, 100 kHz", "x": 4887, "y": 0},
      {"s": "100 MHz, 100 kHz", "x": 4974, "y": 0.0112},
      {"s": "100 MHz, 100 kHz", "x": 5061, "y": 0},
      {"s": "100 MHz, 100 kHz", "x": 5149, "y": 0.0108},
      {"s": "100 MHz, 100 kHz", "x": 5236, "y": 0},
      {"s": "100 MHz, 100 kHz", "x": 5323, "y": 0.0104},
      {"s": "100 MHz, 100 kHz", "x": 5410, "y": 0},
      {"s": "100 MHz, 100 kHz", "x": 5498, "y": 0.0101},
      {"s": "100 MHz, 100 kHz", "x": 5585, "y": 0},
      {"s": "100 MHz, 100 kHz", "x": 5672, "y": 0.0098},
      {"s": "100 MHz, 100 kHz", "x": 5760, "y": 0},
      {"s": "100 MHz, 100 kHz", "x": 5847, "y": 0.0095},
      {"s": "100 MHz, 100 kHz", "x": 5934, "y": 0},
      {"s": "100 MHz, 100 kHz", "x": 6021, "y": 0.0092},
      {"s": "100 MHz, 100 kHz", "x": 6109, "y": 0},
      {"s": "100 MHz, 100 kHz", "x": 6196, "y": 0.0090},
      {"s": "100 MHz, 100 kHz", "x": 6283, "y": 0},
      {"s": "100 MHz, 100 kHz", "x": 6370, "y": 0.0087},
      {"s": "100 MHz, 100 kHz", "x": 6458, "y": 0},
      {"s": "100 MHz, 100 kHz", "x": 6545, "y": 0.0085},
      {"s": "100 MHz, 100 kHz", "x": 6632, "y": 0},
      {"s": "100 MHz, 100 kHz", "x": 6720, "y": 0.0083},
      {"s": "100 MHz, 100 kHz", "x": 6807, "y": 0},
      {"s": "100 MHz, 100 kHz", "x": 6894, "y": 0.0081},
      {"s": "100 MHz, 100 kHz", "x": 6981, "y": 0},
      {"s": "100 MHz, 100 kHz", "x": 7069, "y": 0.0079},
      {"s": "100 MHz, 100 kHz", "x": 7156, "y": 0},
      {"s": "100 MHz, 100 kHz", "x": 7243, "y": 0.0077},
      {"s": "100 MHz, 100 kHz", "x": 7330, "y": 0},
      {"s": "100 MHz, 100 kHz", "x": 7418, "y": 0.0075},
      {"s": "100 MHz, 100 kHz", "x": 7505, "y": 0},
      {"s": "100 MHz, 100 kHz", "x": 7592, "y": 0.0073},
      {"s": "100 MHz, 100 kHz", "x": 7679, "y": 0},
      {"s": "100 MHz, 100 kHz", "x": 7767, "y": 0.0072},
      {"s": "100 MHz, 100 kHz", "x": 7854, "y": 0},
      {"s": "100 MHz, 100 kHz", "x": 7941, "y": 0.0070},
      {"s": "100 MHz, 100 kHz", "x": 8029, "y": 0},
      {"s": "100 MHz, 100 kHz", "x": 8116, "y": 0.0068},
      {"s": "100 MHz, 100 kHz", "x": 8203, "y": 0},
      {"s": "100 MHz, 100 kHz", "x": 8290, "y": 0.0067},
      {"s": "100 MHz, 100 kHz", "x": 8378, "y": 0},
      {"s": "100 MHz, 100 kHz", "x": 8465, "y": 0.0066},
      {"s": "100 MHz, 100 kHz", "x": 8552, "y": 0},
      {"s": "100 MHz, 100 kHz", "x": 8639, "y": 0.0064},
      {"s": "100 MHz, 100 kHz", "x": 8727, "y": 0},
      {"s": "100 MHz, 100 kHz", "x": 8814, "y": 0.0063},
      {"s": "100 MHz, 100 kHz", "x": 8901, "y": 0},
      {"s": "100 MHz, 100 kHz", "x": 8989, "y": 0.0062},
      {"s": "100 MHz, 100 kHz", "x": 9076, "y": 0},
      {"s": "100 MHz, 100 kHz", "x": 9163, "y": 0.0061},
      {"s": "100 MHz, 100 kHz", "x": 9250, "y": 0},
      {"s": "100 MHz, 100 kHz", "x": 9338, "y": 0.0060},
      {"s": "100 MHz, 100 kHz", "x": 9425, "y": 0},
      {"s": "100 MHz, 100 kHz", "x": 9512, "y": 0.0058},
      {"s": "100 MHz, 100 kHz", "x": 9599, "y": 0},
      {"s": "100 MHz, 100 kHz", "x": 9687, "y": 0.0057},
      {"s": "100 MHz, 100 kHz", "x": 9774, "y": 0},
      {"s": "100 MHz, 100 kHz", "x": 9861, "y": 0.0056},
      {"s": "100 MHz, 100 kHz", "x": 9948, "y": 0},
      {"s": "100 MHz, 100 kHz", "x": 10000, "y": 0.0045}
    ]
  },
  "resolve": {
    "scale": {"x": "independent", "y": "independent", "color": "independent", "strokeDash": "independent"},
    "legend": {"color": "independent", "strokeDash": "independent"}
  },
  "vconcat": [
    {
      "width": 678,
      "height": 440,
      "data": {"name": "p1"},
      "mark": {"type": "line", "strokeWidth": 2, "clip": true},
      "encoding": {
        "x": {
          "field": "x",
          "type": "quantitative",
          "scale": {"type": "log", "domain": [646000, 9.7e9], "nice": false},
          "axis": {
            "title": "ν (Hz)",
            "values": [7e5, 8e5, 9e5, 1e6, 2e6, 3e6, 4e6, 5e6, 6e6, 7e6, 8e6, 9e6, 1e7, 2e7, 3e7, 4e7, 5e7, 6e7, 7e7, 8e7, 9e7, 1e8, 2e8, 3e8, 4e8, 5e8, 6e8, 7e8, 8e8, 9e8, 1e9, 2e9, 3e9, 4e9, 5e9, 6e9, 7e9, 8e9, 9e9],
            "labelExpr": "datum.value == 1e6 ? '10⁶' : datum.value == 1e7 ? '10⁷' : datum.value == 1e8 ? '10⁸' : datum.value == 1e9 ? '10⁹' : ''",
            "tickSize": {"condition": {"test": "indexof([1e6, 1e7, 1e8, 1e9], datum.value) >= 0", "value": 15.7}, "value": 9},
            "tickWidth": {"condition": {"test": "indexof([1e6, 1e7, 1e8, 1e9], datum.value) >= 0", "value": 1.8}, "value": 1.4}
          }
        },
        "y": {
          "field": "y",
          "type": "quantitative",
          "scale": {"domain": [0, 1], "nice": false},
          "axis": {"title": "|P̃|/|P̃₀|", "values": [0, 0.2, 0.4, 0.6, 0.8, 1.0], "format": ".1f", "tickSize": 15.7, "tickWidth": 1.8}
        },
        "color": {
          "field": "s",
          "type": "nominal",
          "scale": {"domain": ["100 kHz, 100 rad m⁻²", "1 MHz, 1000 rad m⁻²", "100 MHz, 1000 rad m⁻²"], "range": ["#1f77b4", "#ff7f0e", "#2ca02c"]},
          "legend": {"title": "Δν, RM", "orient": "top-left", "rowPadding": 4, "titlePadding": 0}
        },
        "strokeDash": {
          "field": "s",
          "type": "nominal",
          "scale": {"domain": ["100 kHz, 100 rad m⁻²", "1 MHz, 1000 rad m⁻²", "100 MHz, 1000 rad m⁻²"], "range": [[1, 0], [12.8, 3.2, 2, 3.2], [7.4, 3.2]]},
          "legend": {"title": "Δν, RM", "orient": "top-left", "rowPadding": 4, "titlePadding": 0}
        }
      }
    },
    {
      "width": 678,
      "height": 440,
      "data": {"name": "p2"},
      "mark": {"type": "line", "strokeWidth": 2, "clip": true},
      "encoding": {
        "x": {
          "field": "x",
          "type": "quantitative",
          "scale": {"type": "log", "domain": [562.3, 1.778e8], "nice": false},
          "axis": {
            "title": "Δν (Hz)",
            "values": [6e2, 7e2, 8e2, 9e2, 1e3, 2e3, 3e3, 4e3, 5e3, 6e3, 7e3, 8e3, 9e3, 1e4, 2e4, 3e4, 4e4, 5e4, 6e4, 7e4, 8e4, 9e4, 1e5, 2e5, 3e5, 4e5, 5e5, 6e5, 7e5, 8e5, 9e5, 1e6, 2e6, 3e6, 4e6, 5e6, 6e6, 7e6, 8e6, 9e6, 1e7, 2e7, 3e7, 4e7, 5e7, 6e7, 7e7, 8e7, 9e7, 1e8],
            "labelExpr": "datum.value == 1e3 ? '10³' : datum.value == 1e4 ? '10⁴' : datum.value == 1e5 ? '10⁵' : datum.value == 1e6 ? '10⁶' : datum.value == 1e7 ? '10⁷' : datum.value == 1e8 ? '10⁸' : ''",
            "tickSize": {"condition": {"test": "indexof([1e3, 1e4, 1e5, 1e6, 1e7, 1e8], datum.value) >= 0", "value": 15.7}, "value": 9},
            "tickWidth": {"condition": {"test": "indexof([1e3, 1e4, 1e5, 1e6, 1e7, 1e8], datum.value) >= 0", "value": 1.8}, "value": 1.4}
          }
        },
        "y": {
          "field": "y",
          "type": "quantitative",
          "scale": {"domain": [-0.05, 1.05], "nice": false},
          "axis": {"title": "|P̃|/|P̃₀|", "values": [0, 0.2, 0.4, 0.6, 0.8, 1.0], "format": ".1f", "tickSize": 15.7, "tickWidth": 1.8}
        },
        "color": {
          "field": "s",
          "type": "nominal",
          "scale": {"domain": ["100 MHz, 100 rad m⁻²", "1 GHz, 1000 rad m⁻²", "3 GHz, 1000 rad m⁻²"], "range": ["#1f77b4", "#ff7f0e", "#2ca02c"]},
          "legend": {"title": "ν, RM", "orient": "bottom-left", "rowPadding": 4, "titlePadding": 0}
        },
        "strokeDash": {
          "field": "s",
          "type": "nominal",
          "scale": {"domain": ["100 MHz, 100 rad m⁻²", "1 GHz, 1000 rad m⁻²", "3 GHz, 1000 rad m⁻²"], "range": [[1, 0], [2, 3.3], [7.4, 3.2]]},
          "legend": {"title": "ν, RM", "orient": "bottom-left", "rowPadding": 4, "titlePadding": 0}
        }
      }
    },
    {
      "width": 678,
      "height": 440,
      "data": {"name": "p3"},
      "mark": {"type": "line", "strokeWidth": 2, "clip": true},
      "encoding": {
        "x": {
          "field": "x",
          "type": "quantitative",
          "scale": {"domain": [0, 10000], "nice": false},
          "axis": {"title": "RM (rad m⁻²)", "values": [0, 2000, 4000, 6000, 8000, 10000], "format": "d", "tickSize": 15.7, "tickWidth": 1.8}
        },
        "y": {
          "field": "y",
          "type": "quantitative",
          "scale": {"domain": [0, 1], "nice": false},
          "axis": {"title": "|P̃|/|P̃₀|", "values": [0, 0.2, 0.4, 0.6, 0.8, 1.0], "format": ".1f", "tickSize": 15.7, "tickWidth": 1.8}
        },
        "color": {
          "field": "s",
          "type": "nominal",
          "scale": {"domain": ["1 GHz, 1 MHz", "1 GHz, 10 MHz", "100 MHz, 100 kHz"], "range": ["#1f77b4", "#ff7f0e", "#2ca02c"]},
          "legend": {"title": "ν, Δν", "orient": "none", "legendX": 212, "legendY": 152, "clipHeight": 26, "rowPadding": 3, "titlePadding": 7}
        },
        "strokeDash": {
          "field": "s",
          "type": "nominal",
          "scale": {"domain": ["1 GHz, 1 MHz", "1 GHz, 10 MHz", "100 MHz, 100 kHz"], "range": [[1, 0], [12.8, 3.2, 2, 3.2], [2, 3.3]]},
          "legend": {"title": "ν, Δν", "orient": "none", "legendX": 212, "legendY": 152, "clipHeight": 26, "rowPadding": 3, "titlePadding": 7}
        }
      }
    }
  ]
}
